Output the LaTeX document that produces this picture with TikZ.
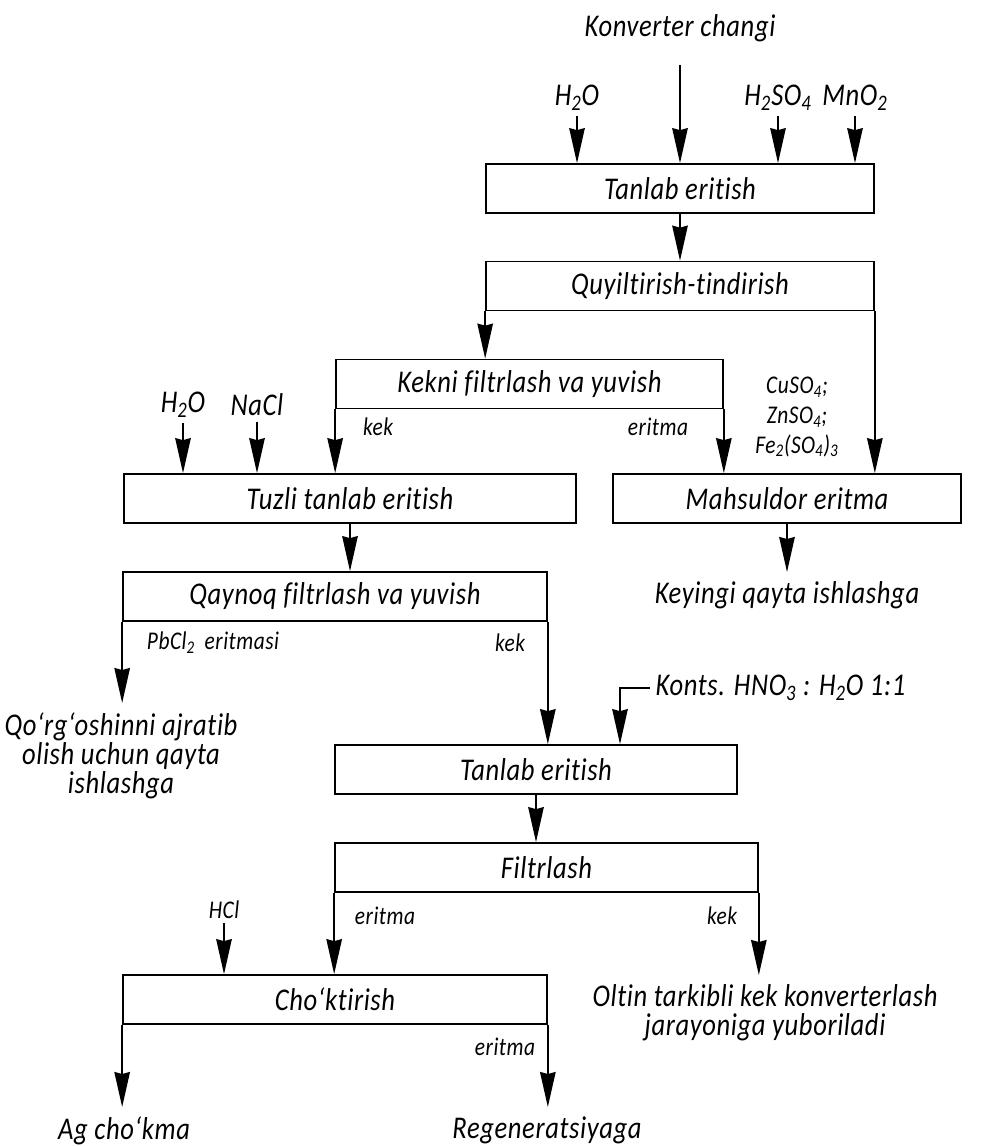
\documentclass[tikz,border=0pt]{standalone}
\usepackage{fontspec}
\setmainfont{Carlito}[FakeStretch=0.84, LetterSpace=2, Ligatures=NoCommon]
\usetikzlibrary{calc}
\usetikzlibrary{arrows.meta}

% Fontes do esquema
\newcommand{\fmain}{\fontsize{18}{20}\itshape\selectfont}
\newcommand{\fsmall}{\fontsize{14.5}{17}\itshape\selectfont}
\newcommand{\sbs}[1]{\textsubscript{#1}}

\begin{document}
\begin{tikzpicture}[x=0.02cm,y=-0.02cm]

    % Tamanho da folha
    \useasboundingbox (0,0) rectangle (992,1146);

    % Altura dos blocos
    \def\szh{.98cm}

    % Estilo de bloco retangular
    \tikzstyle{block} = [
      draw, rectangle, line width=1pt, inner sep=0pt,
      minimum height=\szh, font=\fmain
    ];

    % Estilos de texto e setas
    \tikzstyle{txt} = [inner sep=3pt, font=\fmain];
    \tikzstyle{res} = [inner xsep=1pt, inner ysep=5.5pt, anchor=north, font=\fmain];
    \tikzstyle{lbl} = [inner sep=2pt, font=\fsmall];
    \tikzstyle{arr} = [line width=1pt, -{Stealth[length=.7cm,width=.31cm,inset=.04cm]}];

    % Entradas do primeiro bloco
    \node[txt] (konv) at (680,28) {Konverter changi};
    \coordinate (kc) at (680,65);
    \node[txt] (h2oa) at (577,98) {H\sbs{2}O};
    \node[txt] (h2so) at (778,98) {H\sbs{2}SO\sbs{4}};
    \node[txt] (mno) at (855,98) {MnO\sbs{2}};

    % Blocos do processo
    \node[block, minimum width=7.76cm] (tan1) at (680,188.5) {Tanlab eritish};
    \node[block, minimum width=7.76cm] (quy) at (680,286) {Quyiltirish-tindirish};
    \node[block, minimum width=7.74cm] (kek) at (529.5,384) {Kekni filtrlash va yuvish};
    \node[block, minimum width=9.04cm] (tuz) at (350,498.5) {Tuzli tanlab eritish};
    \node[block, minimum width=6.96cm] (mah) at (787,498.5) {Mahsuldor eritma};
    \node[block, minimum width=8.48cm] (qay) at (335,596.5) {Qaynoq filtrlash va yuvish};
    \node[block, minimum width=8.04cm] (tan2) at (536,769.5) {Tanlab eritish};
    \node[block, minimum width=8.46cm] (fil) at (546.5,867.5) {Filtrlash};
    \node[block, minimum width=8.48cm] (cho) at (335,999.5) {Cho‘ktirish};

    % Entradas intermediarias
    \node[txt] (h2ob) at (183,405) {H\sbs{2}O};
    \node[txt] (nacl) at (257,405) {NaCl};
    \node[txt, anchor=west] (konts) at (650,688) {Konts. HNO\sbs{3} : H\sbs{2}O 1:1};
    \node[lbl] (hcl) at (224,910) {HCl};

    % Produtos finais
    \node[res] (key) at (787,572) {Keyingi qayta ishlashga};
    \node[res, align=center, font=\fontsize{18}{14.5}\itshape\selectfont]
      (qor) at (121,703) {Qo‘rg‘oshinni ajratib\\olish uchun qayta\\ishlashga};
    \node[res, align=center, font=\fontsize{18}{16.5}\itshape\selectfont]
      (olt) at (765,975) {Oltin tarkibli kek konverterlash\\jarayoniga yuboriladi};
    \node[res] (ag) at (124,1107) {Ag cho‘kma};
    \node[res] (reg) at (547,1107) {Regeneratsiyaga};

    % Rotulos dos fluxos
    \node[lbl] at (378,427) {kek};
    \node[lbl] at (658,427) {eritma};
    \node[lbl, align=center, font=\fontsize{14.5}{17}\itshape\selectfont] at (797,417)
      {CuSO\sbs{4};\\ZnSO\sbs{4};\\Fe\sbs{2}(SO\sbs{4})\sbs{3}};
    \node[lbl] at (213,643) {PbCl\sbs{2}\, eritmasi};
    \node[lbl] at (510,643) {kek};
    \node[lbl] at (385,916) {eritma};
    \node[lbl] at (722,916) {kek};
    \node[lbl] at (505,1047) {eritma};

    % Setas
    \draw[arr] (kc) -- (tan1.north);
    \foreach \src in {h2oa,h2so,mno}
      \draw[arr] (\src.south) -- (\src.south |- tan1.north);
    \draw[arr] (tan1.south) -- (quy.north);
    \draw[arr] (quy.south west) -- (quy.south west |- kek.north);
    \draw[arr] (quy.south east) -- (quy.south east |- mah.north);
    \draw[arr] (kek.south west) -- (kek.south west |- tuz.north);
    \draw[arr] (kek.south east) -- (kek.south east |- mah.north);
    \foreach \src in {h2ob,nacl}
      \draw[arr] (\src.south) -- (\src.south |- tuz.north);
    \draw[arr] (mah.south) -- (mah.south |- key.north);
    \draw[arr] (tuz.south) -- (tuz.south |- qay.north);
    \draw[arr] (qay.south west) -- (qay.south west |- qor.north);
    \draw[arr] (qay.south east) -- (qay.south east |- tan2.north);
    \draw[arr] (konts.west) -| ($(tan2.north)+(84,0)$);
    \draw[arr] (tan2.south) -- (tan2.south |- fil.north);
    \draw[arr] (fil.south west) -- (fil.south west |- cho.north);
    \draw[arr] (fil.south east) -- (fil.south east |- olt.north);
    \draw[arr] (hcl.south) -- (hcl.south |- cho.north);
    \draw[arr] (cho.south west) -- (cho.south west |- ag.north);
    \draw[arr] (cho.south east) -- (cho.south east |- reg.north);

\end{tikzpicture}
\end{document}
